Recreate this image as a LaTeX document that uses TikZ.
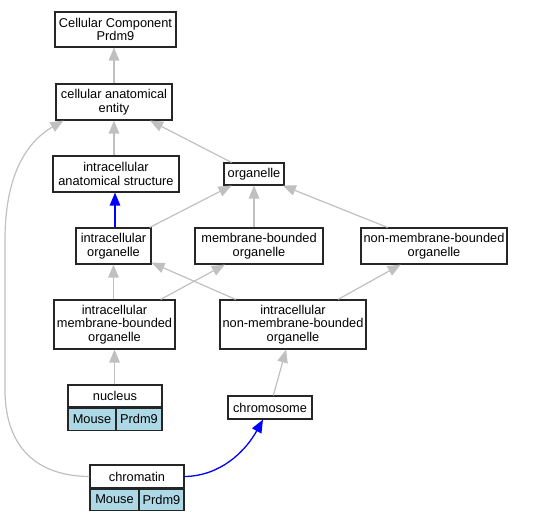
\documentclass[tikz,border=0pt]{standalone}
\usepackage{fontspec}
\setmainfont{Liberation Sans}
\usetikzlibrary{arrows.meta}
\definecolor{edgegray}{HTML}{C0C0C0}
\definecolor{lblue}{HTML}{ADD8E6}
\definecolor{pblue}{HTML}{0000FF}
\begin{document}
\begin{tikzpicture}[x=1pt,y=-1pt,
  box/.style={draw=black!85, line width=1.1pt, fill=white, inner sep=0pt, align=center,
    font=\fontsize{12.8}{13.6}\selectfont, text=black},
  cell/.style={box, fill=lblue},
  isa/.style={draw=edgegray, line width=1.2pt, -{Triangle[length=13pt,width=10.5pt,fill=edgegray]}},
  partof/.style={draw=pblue, line width=1.3pt, -{Triangle[length=13pt,width=10.5pt,fill=pblue]}}
]
\useasboundingbox (0,0) rectangle (534,520);

% nodes
\node[box, minimum width=121pt, minimum height=35pt] (cc) at (115.5,29.5) {Cellular Component\\Prdm9};
\node[box, minimum width=116pt, minimum height=36pt] (cae) at (114,102) {cellular anatomical\\entity};
\node[box, minimum width=126pt, minimum height=36pt] (ias) at (116,174) {intracellular\\anatomical structure};
\node[box, minimum width=60pt, minimum height=22pt] (org) at (254,174) {organelle};
\node[box, minimum width=75pt, minimum height=36pt] (io) at (113.5,246) {intracellular\\organelle};
\node[box, minimum width=128pt, minimum height=36pt] (mbo) at (259,246) {membrane-bounded\\organelle};
\node[box, minimum width=146pt, minimum height=36pt] (nmbo) at (434,246) {non-membrane-bounded\\organelle};
\node[box, minimum width=121pt, minimum height=49pt] (imbo) at (114.5,324.5) {intracellular\\membrane-bounded\\organelle};
\node[box, minimum width=146pt, minimum height=49pt] (inmbo) at (293,324.5) {intracellular\\non-membrane-bounded\\organelle};
\node[box, minimum width=94pt, minimum height=22pt] (nuc) at (115,396) {nucleus};
\node[cell, minimum width=48pt, minimum height=22pt, anchor=north west] (nucm) at (nuc.south west) {Mouse};
\node[cell, minimum width=46pt, minimum height=22pt, anchor=north east] (nucp) at (nuc.south east) {Prdm9};
\node[box, minimum width=84pt, minimum height=23pt] (chr) at (270,407.5) {chromosome};
\node[box, minimum width=94pt, minimum height=23pt] (cht) at (137,476.5) {chromatin};
\node[cell, minimum width=49pt, minimum height=21pt, anchor=north west] (chtm) at (cht.south west) {Mouse};
\node[cell, minimum width=45pt, minimum height=21pt, anchor=north east] (chtp) at (cht.south east) {Prdm9};

% edges
\draw[isa] (cae.north) -- (cae.north |- cc.south);
\draw[isa] (ias.north -| cae.north) -- (cae.south);
\draw[isa] (org) -- (cae);
\draw[partof] ([xshift=1.5pt]io.north) -- ([xshift=1.5pt]io.north |- ias.south);
\draw[isa] (io) -- (org);
\draw[isa] (org.south |- mbo.north) -- (org.south);
\draw[isa] (nmbo) -- (org);
\draw[isa] (imbo.north -| io.south) -- (io.south);
\draw[isa] (imbo) -- (mbo);
\draw[isa] (inmbo) -- (io);
\draw[isa] (inmbo) -- (nmbo);
\draw[isa] (nuc.north -| imbo.south) -- (imbo.south);
\draw[isa] (chr) -- (inmbo);
\draw[partof] (cht.east) .. controls (220,476) and (245,452) .. ([xshift=-7pt]chr.south);
\draw[isa] (cht.west) .. controls (30,476) and (5,440) .. (5,390) -- (5,240)
  .. controls (5,170) and (30,140) .. ([xshift=8pt]cae.south west);
\end{tikzpicture}
\end{document}
